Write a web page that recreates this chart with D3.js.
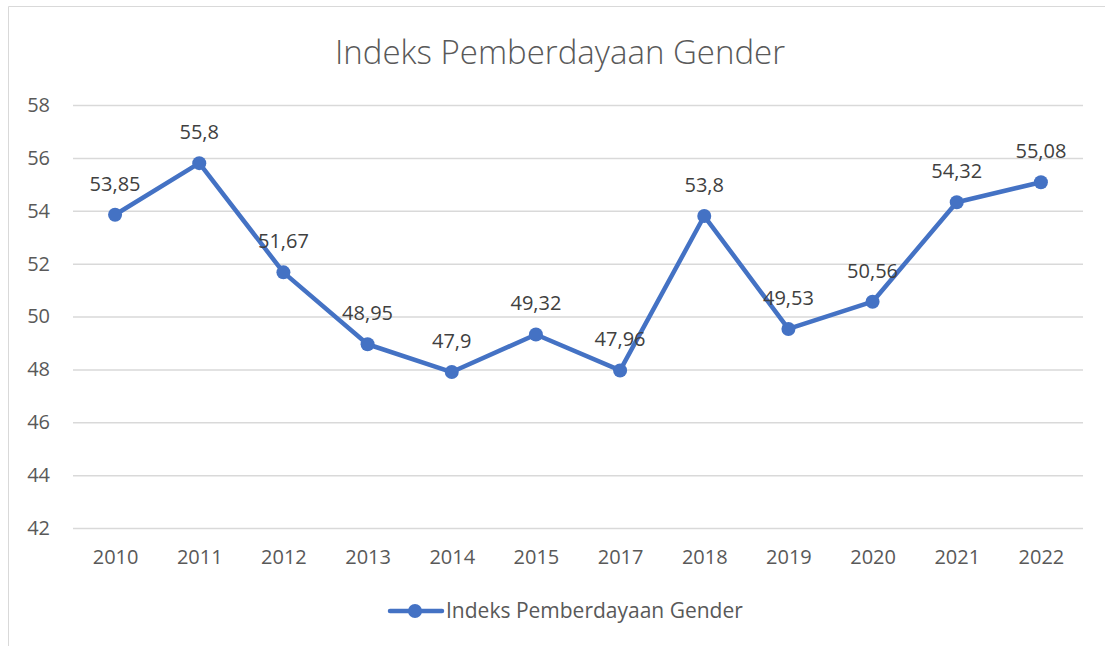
<!DOCTYPE html>
<html>
<head>
<meta charset="utf-8">
<script src="https://cdn.jsdelivr.net/npm/d3@7"></script>
<style>
  body { margin: 0; background: #fff; }
  svg { display: block; font-family: "Open Sans", "Noto Sans", sans-serif; }
</style>
</head>
<body>
<svg id="chart"></svg>
<script>
const years = ["2010", "2011", "2012", "2013", "2014", "2015", "2017", "2018", "2019", "2020", "2021", "2022"];
const values = [53.85, 55.8, 51.67, 48.95, 47.9, 49.32, 47.96, 53.8, 49.53, 50.56, 54.32, 55.08];
const labels = ["53,85", "55,8", "51,67", "48,95", "47,9", "49,32", "47,96", "53,8", "49,53", "50,56", "54,32", "55,08"];
const yTicks = [42, 44, 46, 48, 50, 52, 54, 56, 58];
const seriesName = "Indeks Pemberdayaan Gender";

const width = 1105, height = 646;
const margin = { top: 105, right: 22, bottom: 118, left: 73 };
const blue = "#4472c4";

const svg = d3.select("#chart").attr("width", width).attr("height", height);

// Chart border (only top and left edges are visible in the frame)
svg.append("path")
  .attr("d", `M8.5,${height}V6.5H${width}`)
  .attr("fill", "none")
  .attr("stroke", "#d9d9d9")
  .attr("stroke-width", 1);

const x = d3.scalePoint()
  .domain(years)
  .range([margin.left, width - margin.right])
  .padding(0.5);

const y = d3.scaleLinear()
  .domain([42, 58])
  .range([height - margin.bottom, margin.top]);

// Title
svg.append("text")
  .attr("x", 560)
  .attr("y", 64)
  .attr("text-anchor", "middle")
  .attr("fill", "#595959")
  .style("font-size", "33px")
  .style("font-weight", 300)
  .text(seriesName);

// Y axis with gridlines
const yAxis = svg.append("g")
  .attr("transform", `translate(${margin.left}, 0)`)
  .call(d3.axisLeft(y)
    .tickValues(yTicks)
    .tickSize(-(width - margin.left - margin.right))
    .tickPadding(23));
yAxis.select(".domain").remove();
yAxis.selectAll("line").attr("stroke", "#d9d9d9").attr("stroke-width", 1.5);
yAxis.selectAll("text")
  .attr("fill", "#595959")
  .style("font-size", "20px")
  .style("font-family", "Open Sans, sans-serif");

// X axis labels
const xAxis = svg.append("g")
  .attr("transform", `translate(0, ${height - margin.bottom})`)
  .call(d3.axisBottom(x).tickSize(0).tickPadding(22));
xAxis.select(".domain").remove();
xAxis.selectAll("text")
  .attr("fill", "#595959")
  .style("font-size", "20px")
  .style("font-family", "Open Sans, sans-serif");

const data = years.map((yr, i) => ({ year: yr, value: values[i], label: labels[i] }));

// Line
const line = d3.line()
  .x(d => x(d.year))
  .y(d => y(d.value));

svg.append("path")
  .datum(data)
  .attr("fill", "none")
  .attr("stroke", blue)
  .attr("stroke-width", 4.5)
  .attr("stroke-linejoin", "round")
  .attr("stroke-linecap", "round")
  .attr("d", line);

// Markers
svg.append("g")
  .selectAll("circle")
  .data(data)
  .join("circle")
  .attr("cx", d => x(d.year))
  .attr("cy", d => y(d.value))
  .attr("r", 7)
  .attr("fill", blue);

// Data labels
svg.append("g")
  .selectAll("text")
  .data(data)
  .join("text")
  .attr("x", d => x(d.year))
  .attr("y", d => y(d.value) - 24)
  .attr("text-anchor", "middle")
  .attr("fill", "#404040")
  .style("font-size", "20px")
  .text(d => d.label);

// Legend
const legend = svg.append("g").attr("transform", "translate(388, 611)");
legend.append("line")
  .attr("x1", 2).attr("x2", 54)
  .attr("stroke", blue)
  .attr("stroke-width", 4.5)
  .attr("stroke-linecap", "round");
legend.append("circle")
  .attr("cx", 27).attr("r", 7)
  .attr("fill", blue);
legend.append("text")
  .attr("x", 58)
  .attr("dy", "0.35em")
  .attr("fill", "#595959")
  .style("font-size", "21px")
  .text(seriesName);
</script>
</body>
</html>
